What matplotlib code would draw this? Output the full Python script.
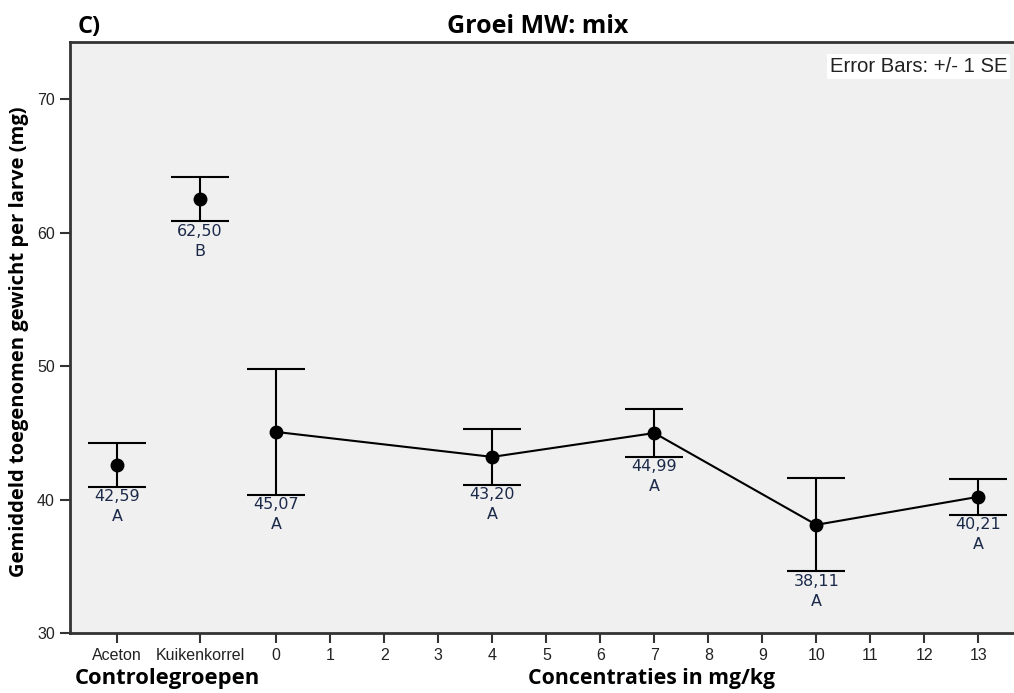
import numpy as np
import matplotlib
matplotlib.use('Agg')
import matplotlib.pyplot as plt

# control groups (plotted separately on the left)
ctrl_names = ['Aceton', 'Kuikenkorrel']
ctrl_pos = [-2.95, -1.41]
ctrl_mean = [42.59, 62.50]
ctrl_se = [1.65, 1.65]
ctrl_group = ['A', 'B']

# concentration series
conc = [0, 4, 7, 10, 13]
conc_mean = [45.07, 43.20, 44.99, 38.11, 40.21]
conc_se = [4.7, 2.1, 1.8, 3.5, 1.35]
conc_group = ['A', 'A', 'A', 'A', 'A']

xticks = ctrl_pos + list(range(0, 14))
xticklabels = ctrl_names + [str(i) for i in range(0, 14)]

bold = ['Open Sans', 'DejaVu Sans']
lab_col = '#1c2a4a'

fig = plt.figure(figsize=(10.14, 6.93), dpi=100)
ax = fig.add_axes([70/1014, 60/693, 944/1014, 591/693])
ax.set_facecolor('#f0f0f0')

ekw = dict(fmt='o', color='black', ms=9, elinewidth=1.5, capsize=21, capthick=1.5)
ax.errorbar(ctrl_pos, ctrl_mean, yerr=ctrl_se, **ekw)
ax.errorbar(conc, conc_mean, yerr=conc_se, **ekw)
ax.plot(conc, conc_mean, color='black', lw=1.5)

for x, m, s, g in zip(ctrl_pos + conc, ctrl_mean + conc_mean,
                      ctrl_se + conc_se, ctrl_group + conc_group):
    ax.annotate(f'{m:.2f}'.replace('.', ','), (x, m - s), xytext=(0, -1.5),
                textcoords='offset points', ha='center', va='top',
                fontsize=11.5, color=lab_col, family='DejaVu Sans')
    ax.annotate(g, (x, m - s), xytext=(0, -16),
                textcoords='offset points', ha='center', va='top',
                fontsize=11.5, color=lab_col, family='DejaVu Sans')

ax.set_xlim(-3.82, 13.66)
ax.set_ylim(30, 74.3)
ax.set_yticks([30, 40, 50, 60, 70])
ax.set_xticks(xticks)
ax.set_xticklabels(xticklabels)
ax.tick_params(length=7, width=1.5, color='#333333', labelsize=11.5,
               labelcolor='#222222', pad=4)
for t in ax.get_xticklabels() + ax.get_yticklabels():
    t.set_family('Liberation Sans')
ax.spines['right'].set_visible(False)
for s in ['left', 'bottom', 'top']:
    ax.spines[s].set_linewidth(2)
    ax.spines[s].set_color('#333333')

ax.set_ylabel('Gemiddeld toegenomen gewicht per larve (mg)', fontsize=14.5,
              fontweight='bold', family=bold)
ax.yaxis.set_label_coords(-0.0435, 0.492)

ax.text(0.9926, 0.958, 'Error Bars: +/- 1 SE', transform=ax.transAxes,
        ha='right', va='center', fontsize=14.6, family='Liberation Sans',
        color='#222222',
        bbox=dict(facecolor='white', edgecolor='none', pad=2))

fig.text(538/1014, 1 - 33/693, 'Groei MW: mix', ha='center', va='baseline',
         fontsize=18, fontweight='bold', family=bold)
fig.text(78/1014, 1 - 33/693, 'C)', ha='left', va='baseline',
         fontsize=17, fontweight='bold', family=bold)
fig.text(75/1014, 1 - 684/693, 'Controlegroepen', ha='left', va='baseline',
         fontsize=15.8, fontweight='bold', family=bold)
fig.text(528/1014, 1 - 684/693, 'Concentraties in mg/kg', ha='left',
         va='baseline', fontsize=15.3, fontweight='bold', family=bold)

fig.savefig('out.png', dpi=100, facecolor='white')
